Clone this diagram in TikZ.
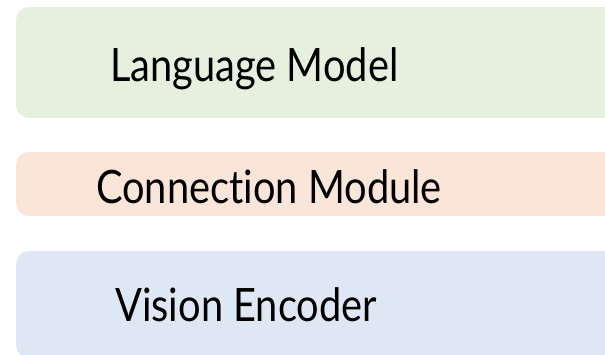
\documentclass[tikz,border=0pt]{standalone}
\usepackage{fontspec}
\setmainfont{Lato}[Ligatures=NoCommon]
\definecolor{lmgreen}{HTML}{E5F0DF}
\definecolor{cmpeach}{HTML}{FBE4D8}
\definecolor{veblue}{HTML}{DEE8F4}
\tikzset{
  layer/.style={rounded corners=13pt, draw=none},
  label/.style={anchor=base west, inner sep=0pt, xscale=0.865, transform shape,
    font=\fontsize{46}{50}\selectfont, text=black}
}
\begin{document}
\begin{tikzpicture}[x=1pt,y=1pt]
\useasboundingbox (0,0) rectangle (605,355);
\clip (0,0) rectangle (605,355);
% stacked model layers, running off the right edge
\fill[layer, lmgreen] (16,237) rectangle (640,348);
\fill[layer, cmpeach] (16,139) rectangle (640,203);
\fill[layer, veblue] (16,-3) rectangle (640,104);
\node[label] (lm) at (110,273) {Language Model};
\node[label] (cm) at (96,151) {Connection Module};
\node[label] (ve) at (115,33) {Vision Encoder};
\end{tikzpicture}
\end{document}
